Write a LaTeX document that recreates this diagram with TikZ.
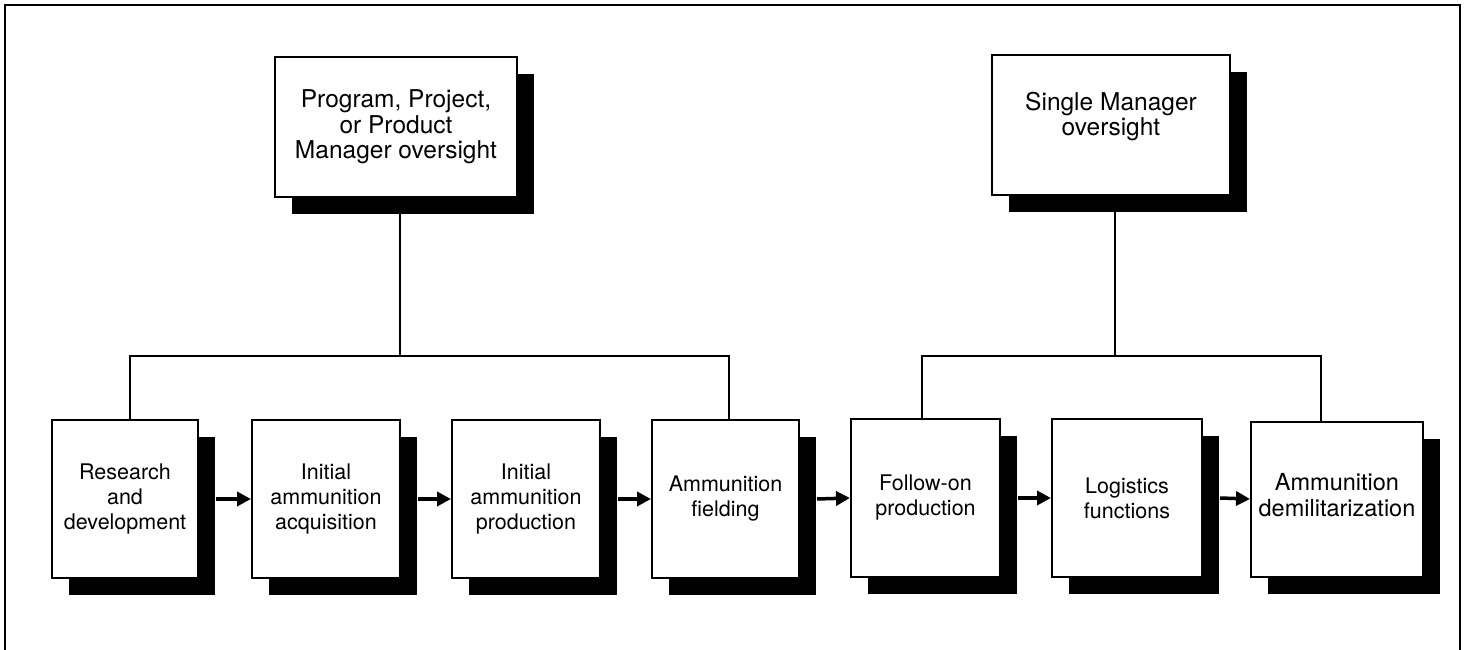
\documentclass[tikz,border=0pt]{standalone}
\usepackage{fontspec}
\setmainfont{TeX Gyre Heros}
\usetikzlibrary{shadows,arrows.meta}
\begin{document}
\begin{tikzpicture}[x=1pt,y=-1pt,
  box/.style={draw=black, line width=2pt, fill=white, inner sep=0pt,
    align=center, font=\fontsize{21.5}{25}\selectfont,
    general shadow={fill=black, shadow xshift=17pt, shadow yshift=-17pt}},
  topbox/.style={box, font=\fontsize{24.5}{25.5}\selectfont},
  lowbox/.style={box, minimum width=148pt, minimum height=158pt},
  conn/.style={line width=1.6pt},
  arr/.style={line width=3.5pt, -{Triangle[length=14pt,width=14pt]}},
  frame/.style={line width=2.5pt}]
\useasboundingbox (0,0) rectangle (1468,650);
\draw[frame] (5,650) -- (5,5) -- (1460,5) -- (1460,650);

% top boxes
\node[topbox, minimum width=242pt, minimum height=140pt] (top1) at (396,127)
  {Program, Project,\\or Product\\Manager oversight};
\node[topbox, minimum width=238pt, minimum height=140pt, text depth=22pt] (top2) at (1111,125)
  {Single Manager\\oversight};

% bottom boxes
\node[lowbox, minimum width=146pt] (b1) at (125,499) {Research\\and\\development};
\node[lowbox] (b2) at (326,499) {Initial\\ammunition\\acquisition};
\node[lowbox] (b3) at (526,499) {Initial\\ammunition\\production};
\node[lowbox, minimum width=147pt] (b4) at (725.5,499) {Ammunition\\fielding};
\node[lowbox, minimum width=149pt] (b5) at (925.5,498) {Follow-on\\production};
\node[lowbox, minimum width=150pt] (b6) at (1127,498) {Logistics\\functions};
\node[lowbox, minimum width=172pt, minimum height=155pt, text depth=8pt,
  font=\fontsize{23.5}{26}\selectfont] (b7) at (1337,499) {Ammunition\\demilitarization};

% bus coordinates
\coordinate (busL) at (400,356);
\coordinate (busR) at (1115,356);

\draw[conn] (top1.south -| busL) -- (busL);
\draw[conn] ([xshift=5pt]b1.north) -- ([xshift=5pt]b1.north |- busL)
  -- ([xshift=3.5pt]b4.north |- busL) -- ([xshift=3.5pt]b4.north);
\draw[conn] (top2.south -| busR) -- (busR);
\draw[conn] ([xshift=-3.5pt]b5.north) -- ([xshift=-3.5pt]b5.north |- busR)
  -- ([xshift=-16pt]b7.north |- busR) -- ([xshift=-16pt]b7.north);

% arrows
\draw[arr] ([xshift=17pt]b1.east) -- (b2.west);
\draw[arr] ([xshift=17pt]b2.east) -- (b3.west);
\draw[arr] ([xshift=17pt]b3.east) -- (b4.west);
\draw[arr] ([xshift=17pt]b4.east) -- (b5.west);
\draw[arr] ([xshift=17pt]b5.east) -- (b6.west);
\draw[arr] ([xshift=17pt]b6.east) -- (b7.west);
\end{tikzpicture}
\end{document}
